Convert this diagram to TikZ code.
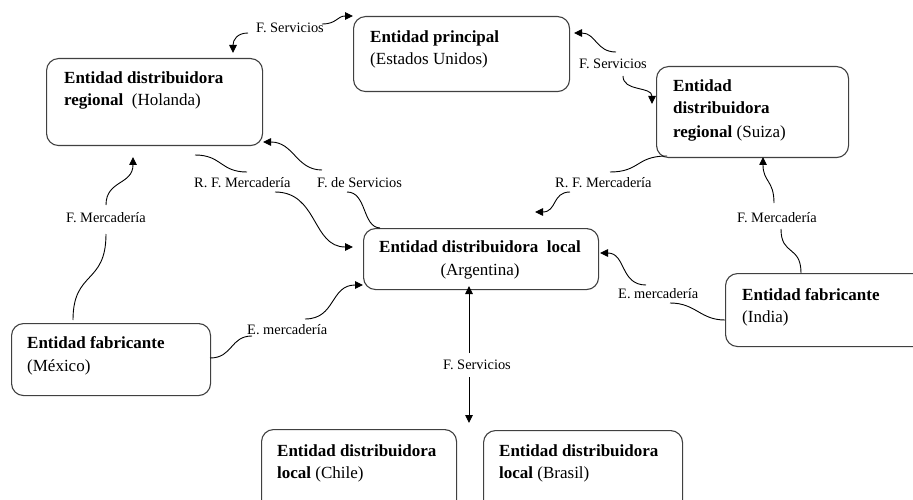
\documentclass[tikz,border=0pt]{standalone}
\usepackage{fontspec}
\setmainfont{Liberation Serif}
\usetikzlibrary{arrows.meta}
\begin{document}
\begin{tikzpicture}[x=1pt,y=-1pt,
  box/.style={draw=black!75, line width=1.1pt, rounded corners=12pt, anchor=north west, inner sep=0pt},
  bt/.style={anchor=base west, inner sep=0pt, font=\fontsize{17}{20}\selectfont\bfseries},
  rt/.style={anchor=base west, inner sep=0pt, font=\fontsize{17}{20}\selectfont},
  lbl/.style={anchor=base west, inner sep=0pt, font=\fontsize{14.4}{16}\selectfont},
  con/.style={line width=0.9pt},
  arr/.style={con, -{Triangle[length=8pt,width=7.5pt]}}
]
\useasboundingbox (0,0) rectangle (913,500);
\clip (0,0) rectangle (913,500);

% boxes
\node[box, minimum width=216pt, minimum height=75pt] (prin) at (353,16) {};
\node[box, minimum width=216pt, minimum height=87pt] (hol) at (46,58) {};
\node[box, minimum width=192pt, minimum height=91pt] (sui) at (656,66) {};
\node[box, minimum width=235pt, minimum height=61pt] (arg) at (363,228) {};
\node[box, minimum width=199pt, minimum height=72pt] (mex) at (11,323) {};
\node[box, minimum width=210pt, minimum height=73pt] (ind) at (725,273) {};
\node[box, minimum width=195pt, minimum height=90pt] (chi) at (261,429) {};
\node[box, minimum width=199pt, minimum height=90pt] (bra) at (483,430) {};

% box texts
\node[bt] (prin1) at (370,43) {Entidad principal};
\node[rt] (prin2) at (370,65) {(Estados Unidos)};
\node[bt] (hol1) at (64,84) {Entidad distribuidora};
\node[rt] (hol2) at (64,106) {\textbf{regional}\ \ (Holanda)};
\node[bt] (sui1) at (673,92) {Entidad};
\node[bt] (sui2) at (673,114) {distribuidora};
\node[rt] (sui3) at (673,138) {\textbf{regional}\ (Suiza)};
\node[bt, anchor=base] (arg1) at (480,252) {Entidad distribuidora\ \ local};
\node[rt, anchor=base] (arg2) at (480,275) {(Argentina)};
\node[bt] (mex1) at (27,348) {Entidad fabricante};
\node[rt] (mex2) at (27,371) {(México)};
\node[bt] (ind1) at (742,300) {Entidad fabricante};
\node[rt] (ind2) at (742,322) {(India)};
\node[bt] (chi1) at (277,456) {Entidad distribuidora};
\node[rt] (chi2) at (277,478) {\textbf{local}\ (Chile)};
\node[bt] (bra1) at (499,456) {Entidad distribuidora};
\node[rt] (bra2) at (499,478) {\textbf{local}\ (Brasil)};

% labels
\node[lbl] (l1) at (256,33) {F. Servicios};
\node[lbl] (l2) at (579,69) {F. Servicios};
\node[lbl] (l3) at (194,187) {R. F. Mercadería};
\node[lbl] (l4) at (317,187) {F. de Servicios};
\node[lbl] (l5) at (555,187) {R. F. Mercadería};
\node[lbl] (l6) at (66,222) {F. Mercadería};
\node[lbl] (l7) at (737,222) {F. Mercadería};
\node[lbl] (l8) at (247,334) {E. mercadería};
\node[lbl] (l9) at (618,298) {E. mercadería};
\node[lbl] (l10) at (443,369) {F. Servicios};

% connector end points
\coordinate (a1) at (322,24); \coordinate (a2) at (353,16);
\coordinate (b1) at (248,33); \coordinate (b2) at (233,53);
\coordinate (c1) at (616,52); \coordinate (c2) at (574,33);
\coordinate (d1) at (623,76); \coordinate (d2) at (652,104);
\coordinate (e1) at (195,155); \coordinate (e2) at (247,172);
\coordinate (f1) at (275,192); \coordinate (f2) at (353,247);
\coordinate (g1) at (347,192); \coordinate (g2) at (380,228);
\coordinate (h1) at (322,170); \coordinate (h2) at (263,142);
\coordinate (i1) at (667,156); \coordinate (i2) at (610,172);
\coordinate (j1) at (570,192); \coordinate (j2) at (535,212);
\coordinate (k1) at (73,320); \coordinate (k2) at (106,234);
\coordinate (m1) at (106,205); \coordinate (m2) at (133,157);
\coordinate (n1) at (801,273); \coordinate (n2) at (781,229);
\coordinate (o1) at (774,203); \coordinate (o2) at (763,157);
\coordinate (p1) at (210,358); \coordinate (p2) at (252,336);
\coordinate (q1) at (305,319); \coordinate (q2) at (363,285);
\coordinate (r1) at (725,320); \coordinate (r2) at (670,303);
\coordinate (s1) at (646,285); \coordinate (s2) at (600,253);
\coordinate (t1) at (469,353); \coordinate (t2) at (469,286);
\coordinate (u1) at (469,377); \coordinate (u2) at (469,423);

% connectors
\draw[arr] (a1) .. controls (337,24) and (337,16) .. (a2);
\draw[arr] (b1) .. controls (237,33) and (233,40) .. (b2);
\draw[arr] (c1) .. controls (596,52) and (596,33) .. (c2);
\draw[arr] (d1) .. controls (623,92) and (652,86) .. (d2);
\draw[con] (e1) .. controls (222,155) and (220,172) .. (e2);
\draw[arr] (f1) .. controls (318,192) and (312,247) .. (f2);
\draw[con] (g1) .. controls (367,192) and (362,227) .. (g2);
\draw[arr] (h1) .. controls (296,170) and (294,142) .. (h2);
\draw[con] (i1) .. controls (636,156) and (640,172) .. (i2);
\draw[arr] (j1) .. controls (552,192) and (557,212) .. (j2);
\draw[con] (k1) .. controls (73,270) and (106,285) .. (k2);
\draw[arr] (m1) .. controls (106,180) and (133,185) .. (m2);
\draw[con] (n1) .. controls (801,245) and (781,256) .. (n2);
\draw[arr] (o1) .. controls (774,180) and (763,182) .. (o2);
\draw[con] (p1) .. controls (233,358) and (230,336) .. (p2);
\draw[arr] (q1) .. controls (336,319) and (330,285) .. (q2);
\draw[con] (r1) .. controls (700,320) and (696,303) .. (r2);
\draw[arr] (s1) .. controls (620,285) and (626,253) .. (s2);
\draw[arr] (t1) -- (t2);
\draw[arr] (u1) -- (u2);
\end{tikzpicture}
\end{document}
